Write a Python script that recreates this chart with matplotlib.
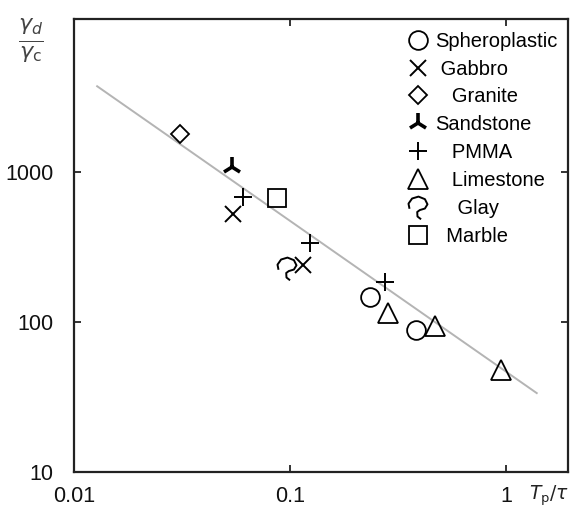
import numpy as np
import matplotlib
matplotlib.use("Agg")
import matplotlib.pyplot as plt
from matplotlib.path import Path

plt.rcParams['font.family'] = ['Liberation Sans', 'DejaVu Sans']
plt.rcParams['mathtext.fontset'] = 'dejavusans'

# values (x = Tp/tau, y = gamma_d/gamma_c)
sph_x = [0.234, 0.383]
sph_y = [147, 88.5]
gab_x = [0.0545, 0.115]
gab_y = [525, 240]
gra_x = [0.031]
gra_y = [1790]
san_x = [0.0539]
san_y = [1080]
pmma_x = [0.0605, 0.124, 0.275]
pmma_y = [681, 336, 185]
lim_x = [0.284, 0.469, 0.949]
lim_y = [115, 94, 47.9]
glay_x = [0.0969]
glay_y = [229]
mar_x = [0.0871]
mar_y = [671]

# fitted line end points
line_x = [0.0128, 1.39]
line_y = [3740, 33.6]

xticks = [0.01, 0.1, 1]
xticklabels = ['0.01', '0.1', '1']
yticks = [10, 100, 1000]
yticklabels = ['10', '100', '1000']

# hook shaped marker for "Glay"
glay_marker = Path([(-0.7, -0.1), (-0.78, 0.3), (-0.5, 0.7), (0.0, 0.85),
                    (0.5, 0.65), (0.7, 0.25), (0.5, -0.08), (0.1, -0.2),
                    (-0.1, -0.35), (-0.08, -0.7), (0.2, -0.92)])

fig = plt.figure(figsize=(5.84, 5.07), dpi=100)
ax = fig.add_axes([0.1267, 0.069, 0.8459, 0.8935])

ax.plot(line_x, line_y, color='#b4b4b4', lw=1.4, zorder=1)

common = dict(ls='none', color='black', mfc='none')
ax.plot(sph_x, sph_y, 'o', ms=13.5, mew=1.3, label='Spheroplastic', **common)
ax.plot(gab_x, gab_y, 'x', ms=12, mew=1.4, label=' Gabbro', **common)
ax.plot(gra_x, gra_y, 'D', ms=9.5, mew=1.3, label='   Granite', **common)
ax.plot(san_x, san_y, '2', ms=15, mew=2.6, label='Sandstone', **common)
ax.plot(pmma_x, pmma_y, '+', ms=13, mew=1.4, label='   PMMA', **common)
ax.plot(lim_x, lim_y, '^', ms=14, mew=1.3, label='   Limestone', **common)
ax.plot(glay_x, glay_y, marker=glay_marker, ms=17, mew=1.4,
        label='    Glay', **common)
ax.plot(mar_x, mar_y, 's', ms=13, mew=1.3, label='  Marble', **common)

ax.set_xscale('log')
ax.set_yscale('log')
ax.set_xlim(0.01, 1.94)
ax.set_ylim(10, 10500)
ax.set_xticks(xticks)
ax.set_xticklabels(xticklabels)
ax.set_yticks(yticks)
ax.set_yticklabels(yticklabels)
ax.minorticks_off()
ax.tick_params(which='major', direction='in', length=5, width=1.2,
               top=True, right=True, labelsize=15.5, colors='#111111')
ax.tick_params(axis='x', pad=10)
ax.tick_params(axis='y', pad=15)
for s in ax.spines.values():
    s.set_linewidth(1.6)
    s.set_color('#222222')

ax.legend(loc='upper left', bbox_to_anchor=(0.676, 0.972), frameon=False,
          fontsize=14.5, handlelength=1.0, handletextpad=0.35,
          labelspacing=0.44, borderpad=0, borderaxespad=0, numpoints=1)

fig.text(0.053, 0.921, r'$\frac{\gamma_d}{\gamma_\mathrm{c}}$', fontsize=23,
         ha='center', va='center', color='#444444')
fig.text(0.905, 0.0217, r'$T_{\mathrm{p}}/\tau$', fontsize=13.5,
         ha='left', va='center', color='#222222')

fig.savefig('out.png', dpi=100)
